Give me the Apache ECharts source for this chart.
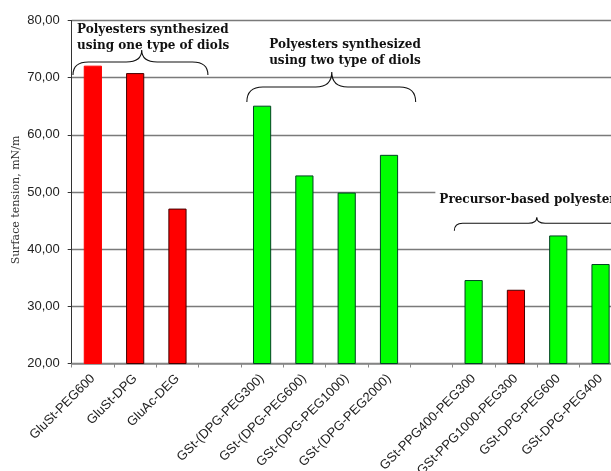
<!DOCTYPE html>
<html><head><meta charset="utf-8">
<script src="https://cdn.jsdelivr.net/npm/echarts@6/dist/echarts.min.js"></script>
<style>html,body{margin:0;padding:0;background:#fff}#c{width:611px;height:471px}</style>
</head><body><div id="c"></div>
<script>
// ---- data ----
const categories = ['GluSt-PEG600','GluSt-DPG','GluAc-DEG','',
  'GSt-(DPG-PEG300)','GSt-(DPG-PEG600)','GSt-(DPG-PEG1000)','GSt-(DPG-PEG2000)','',
  'GSt-PPG400-PEG300','GSt-PPG1000-PEG300','GSt-DPG-PEG600','GSt-DPG-PEG400'];
const surfaceTension = [72.1, 70.8, 47.1, null, 65.1, 52.9, 49.9, 56.5, null, 34.6, 32.9, 42.4, 37.4];
const barGroup = ['one','one','one','', 'two','two','two','two','', 'pre','one','pre','pre'];
const yTicks = [20, 30, 40, 50, 60, 70, 80];
// annotation braces: [xStart, xTip, xEnd, yEnd, yBar, yTip] in category / value units
const braces = [
  [-0.47, 1.155, 2.72, 70.47, 72.74, 74.84],
  [3.64, 5.647, 7.63, 65.74, 68.37, 70.99],
  [8.545, 10.493, 12.44, 43.24, 44.53, 45.58]
];
// annotation texts: [x, y, text, align, box]
const notes = [
  [-0.375, 76.9, 'Polyesters synthesized\nusing one type of diols', 'left', 0],
  [5.96, 74.35, 'Polyesters synthesized\nusing two type of diols', 'center', 0],
  [8.19, 48.7, 'Precursor-based polyesters', 'left', 1]
];

const RED = '#ff0000', GREEN = '#00ff00';
const fmt = v => v.toFixed(2).replace('.', ',');

const chart = echarts.init(document.getElementById('c'), null, {renderer:'canvas'});
const serif = '"DejaVu Serif", "Liberation Serif", serif';
chart.setOption({
  animation: false,
  backgroundColor: '#fff',
  grid: {left: 71.7, top: 20.5, width: 550, bottom: 107.5, containLabel: false, outerBoundsMode: 'none'},
  xAxis: [{
    type: 'category', data: categories,
    axisLine: {lineStyle: {color: '#888', width: 1.5}},
    axisTick: {show: true, length: 4, alignWithLabel: false, lineStyle: {color: '#888'}},
    axisLabel: {interval: 0, rotate: 45, margin: 13, color: '#222',
      fontFamily: '"Liberation Sans", Arial, sans-serif', fontSize: 13}
  }, {
    type: 'value', min: -0.5, max: categories.length - 0.5, show: false,
    axisLine: {show: false, onZero: false}, splitLine: {show: false}
  }],
  yAxis: {
    type: 'value', min: 20, max: 80, interval: 10,
    name: 'Surface tension, mN/m', nameLocation: 'middle', nameGap: 50, nameMoveOverlap: false,
    nameTextStyle: {fontFamily: serif, fontSize: 11, color: '#333', padding: [0, 16, 0, 0]},
    axisLine: {show: true, onZero: false, lineStyle: {color: '#333', width: 1}},
    axisTick: {show: true, length: 4, lineStyle: {color: '#333'}},
    axisLabel: {formatter: fmt, margin: 12, color: '#222',
      fontFamily: '"Liberation Sans", Arial, sans-serif', fontSize: 13},
    splitLine: {show: true, lineStyle: {color: '#7a7a7a', width: 1.3}}
  },
  series: [{
    type: 'bar', xAxisIndex: 0, barWidth: '43%',
    data: surfaceTension.map((v, i) => ({
      value: v,
      itemStyle: {
        color: barGroup[i] === 'one' ? RED : GREEN,
        borderColor: i === 0 ? RED : (barGroup[i] === 'one' ? '#400' : '#042'),
        borderWidth: 1
      }
    }))
  }, {
    type: 'custom', xAxisIndex: 1, z: 5, clip: false, silent: true,
    data: braces,
    renderItem: function (params, api) {
      const p0 = api.coord([api.value(0), api.value(3)]);
      const pb = api.coord([api.value(0), api.value(4)]);
      const pt = api.coord([api.value(1), api.value(5)]);
      const p1 = api.coord([api.value(2), api.value(3)]);
      const x0 = p0[0], yb = p0[1], yh = pb[1], xt = pt[0], ytip = pt[1], x1 = p1[0];
      const r = Math.min(16, (yb - ytip) * 0.62);
      const d = `M${x0},${yb} Q${x0},${yh} ${x0 + r},${yh} L${xt - r},${yh} Q${xt},${yh} ${xt},${ytip} ` +
        `Q${xt},${yh} ${xt + r},${yh} L${x1 - r},${yh} Q${x1},${yh} ${x1},${yb}`;
      return {type: 'path', shape: {pathData: d},
        style: {fill: null, stroke: '#111', lineWidth: 1.1}};
    }
  }, {
    type: 'custom', xAxisIndex: 1, z: 6, clip: false, silent: true,
    data: notes.map(n => [n[0], n[1]]),
    renderItem: function (params, api) {
      const n = notes[params.dataIndex];
      const p = api.coord([api.value(0), api.value(1)]);
      const style = {
        text: n[2], fill: '#111', align: n[3], verticalAlign: 'middle',
        font: 'bold 12px ' + serif, lineHeight: 16
      };
      if (n[4]) { style.backgroundColor = '#fff'; style.padding = [5, 40, 5, 4]; }
      return {type: 'text', x: p[0] - (n[4] ? 4 : 0), y: p[1], style: style};
    }
  }]
});
</script></body></html>
